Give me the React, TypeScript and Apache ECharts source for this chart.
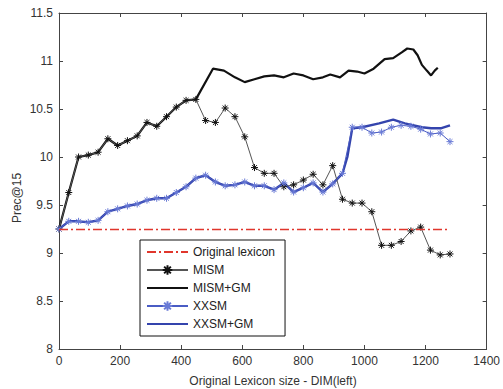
import React, { useEffect, useRef } from "react";
import * as echarts from "echarts";

// Sampled lexicon sizes (x) for the marker series
const SAMPLE_X = [0, 32, 64, 96, 128, 160, 192, 224, 256, 288, 320, 352, 384, 416, 448, 480, 512, 544, 576, 608, 640, 672, 704, 736, 768, 800, 832, 864, 896, 928, 960, 992, 1024, 1056, 1088, 1120, 1152, 1184, 1216, 1248, 1280];

const MISM = [9.25, 9.63, 10.0, 10.02, 10.05, 10.19, 10.12, 10.17, 10.22, 10.36, 10.32, 10.42, 10.52, 10.59, 10.6, 10.38, 10.36, 10.51, 10.42, 10.21, 9.89, 9.83, 9.83, 9.69, 9.71, 9.76, 9.82, 9.71, 9.91, 9.56, 9.52, 9.52, 9.43, 9.08, 9.08, 9.12, 9.23, 9.27, 9.03, 8.98, 8.99];

const XXSM = [9.25, 9.33, 9.33, 9.32, 9.34, 9.43, 9.46, 9.49, 9.51, 9.55, 9.57, 9.57, 9.63, 9.69, 9.78, 9.81, 9.74, 9.7, 9.71, 9.74, 9.7, 9.7, 9.66, 9.73, 9.635, 9.68, 9.73, 9.635, 9.72, 9.83, 10.31, 10.31, 10.25, 10.26, 10.31, 10.33, 10.32, 10.29, 10.24, 10.25, 10.16];

const MISM_GM_X = [0, 32, 64, 96, 128, 160, 192, 224, 256, 288, 320, 352, 384, 416, 448, 504, 540, 576, 608, 640, 672, 704, 736, 768, 800, 832, 864, 888, 920, 948, 976, 1000, 1030, 1066, 1094, 1122, 1140, 1160, 1174, 1188, 1204, 1218, 1230, 1240];
const MISM_GM_Y = [9.25, 9.63, 10.0, 10.02, 10.05, 10.19, 10.12, 10.17, 10.22, 10.36, 10.32, 10.42, 10.52, 10.59, 10.6, 10.92, 10.9, 10.83, 10.78, 10.81, 10.84, 10.85, 10.83, 10.87, 10.85, 10.81, 10.83, 10.86, 10.83, 10.9, 10.89, 10.87, 10.92, 11.02, 11.03, 11.09, 11.13, 11.12, 11.06, 10.96, 10.9, 10.85, 10.9, 10.93];

const XXSM_GM_X = [0, 32, 64, 96, 128, 160, 192, 224, 256, 288, 320, 352, 384, 416, 448, 480, 512, 544, 576, 608, 640, 672, 704, 736, 768, 800, 832, 864, 896, 928, 944, 960, 992, 1048, 1094, 1132, 1188, 1218, 1252, 1280];
const XXSM_GM_Y = [9.25, 9.33, 9.33, 9.32, 9.34, 9.43, 9.46, 9.49, 9.51, 9.55, 9.57, 9.57, 9.63, 9.69, 9.78, 9.81, 9.74, 9.7, 9.71, 9.74, 9.7, 9.7, 9.66, 9.73, 9.635, 9.68, 9.73, 9.635, 9.72, 9.83, 10.0, 10.3, 10.31, 10.35, 10.39, 10.35, 10.31, 10.3, 10.3, 10.33];

const ORIGINAL_X = [0, 1280];
const ORIGINAL_Y = [9.245, 9.245];

const X_MIN = 0, X_MAX = 1400, X_INTERVAL = 200;
const Y_MIN = 8, Y_MAX = 11.5, Y_INTERVAL = 0.5;

const NAMES = ["Original lexicon", "MISM", "MISM+GM", "XXSM", "XXSM+GM"];
const X_TITLE = "Original Lexicon size - DIM(left)";
const Y_TITLE = "Prec@15";

const zip = (xs: number[], ys: number[]) => xs.map((x, i) => [x, ys[i]]);

const STAR = "path://M5,0L5,10M0,5L10,5M1.5,1.5L8.5,8.5M1.5,8.5L8.5,1.5";
const FONT = "'Liberation Sans', Arial, sans-serif";
const AXIS_COLOR = "#444";
const TEXT_COLOR = "#333";

export default function App() {
  const ref = useRef<HTMLDivElement>(null);
  useEffect(() => {
    if (!ref.current) return;
    const chart = echarts.init(ref.current, undefined, { renderer: "svg" });
    const tick = { show: true, inside: true, length: 4, lineStyle: { color: AXIS_COLOR, width: 1 } };
    const line = { show: true, onZero: false, lineStyle: { color: AXIS_COLOR, width: 1 } };
    const plain = (v: number) => String(v);
    chart.setOption({
      animation: false,
      backgroundColor: "#fff",
      textStyle: { fontFamily: FONT },
      grid: { left: 59, right: 14, top: 13, bottom: 40, containLabel: false },
      xAxis: [
        {
          type: "value", min: X_MIN, max: X_MAX, interval: X_INTERVAL, position: "bottom",
          axisLine: line, axisTick: tick, splitLine: { show: false },
          axisLabel: { color: TEXT_COLOR, fontSize: 12, fontFamily: FONT, margin: 6, formatter: plain },
        },
        {
          type: "value", min: X_MIN, max: X_MAX, interval: X_INTERVAL, position: "top",
          axisLine: line, axisTick: tick, splitLine: { show: false }, axisLabel: { show: false },
        },
      ],
      yAxis: [
        {
          type: "value", min: Y_MIN, max: Y_MAX, interval: Y_INTERVAL, position: "left",
          axisLine: line, axisTick: tick, splitLine: { show: false },
          axisLabel: { color: TEXT_COLOR, fontSize: 12, fontFamily: FONT, margin: 6, formatter: plain },
        },
        {
          type: "value", min: Y_MIN, max: Y_MAX, interval: Y_INTERVAL, position: "right",
          axisLine: line, axisTick: tick, splitLine: { show: false }, axisLabel: { show: false },
        },
      ],
      legend: {
        orient: "vertical", left: 140, top: 240,
        padding: [6, 10, 6, 6], itemGap: 6, itemWidth: 41, itemHeight: 12,
        borderColor: "#111", borderWidth: 1, borderRadius: 0, backgroundColor: "#fff",
        textStyle: { color: "#222", fontSize: 12, fontFamily: FONT },
        data: [
          { name: NAMES[0], itemStyle: { opacity: 0 } },
          { name: NAMES[1] },
          { name: NAMES[2], itemStyle: { opacity: 0 } },
          { name: NAMES[3] },
          { name: NAMES[4], itemStyle: { opacity: 0 } },
        ],
      },
      graphic: [
        {
          type: "text", x: 17, y: 198, rotation: Math.PI / 2,
          style: { text: Y_TITLE, fill: TEXT_COLOR, font: `12px ${FONT}`, textAlign: "center", textVerticalAlign: "middle" },
        },
        {
          type: "text", x: 273, y: 381,
          style: { text: X_TITLE, fill: TEXT_COLOR, font: `12px ${FONT}`, textAlign: "center", textVerticalAlign: "middle" },
        },
      ],
      series: [
        {
          name: NAMES[2], type: "line", data: zip(MISM_GM_X, MISM_GM_Y), symbol: "none",
          lineStyle: { color: "#111", width: 2.2 }, itemStyle: { color: "#111" }, z: 2,
        },
        {
          name: NAMES[4], type: "line", data: zip(XXSM_GM_X, XXSM_GM_Y), symbol: "none",
          lineStyle: { color: "#3444ad", width: 2.4 }, itemStyle: { color: "#3444ad" }, z: 2,
        },
        {
          name: NAMES[1], type: "line", data: zip(SAMPLE_X, MISM), symbol: STAR, symbolSize: 7,
          lineStyle: { color: "#555", width: 1 },
          itemStyle: { color: "#111", borderColor: "#111", borderWidth: 1 }, z: 3,
        },
        {
          name: NAMES[3], type: "line", data: zip(SAMPLE_X, XXSM), symbol: STAR, symbolSize: 7,
          lineStyle: { color: "#4a5cc4", width: 1 },
          itemStyle: { color: "#6a7bd6", borderColor: "#6a7bd6", borderWidth: 1 }, z: 3,
        },
        {
          name: NAMES[0], type: "line", data: zip(ORIGINAL_X, ORIGINAL_Y), symbol: "none",
          lineStyle: { color: "#e0362c", width: 1.5, type: [9, 3, 2, 3] }, itemStyle: { color: "#e0362c" }, z: 4,
        },
      ],
    });
    return () => chart.dispose();
  }, []);
  return <div ref={ref} style={{ width: 503, height: 389, position: "absolute", left: 0, top: 0 }} />;
}
